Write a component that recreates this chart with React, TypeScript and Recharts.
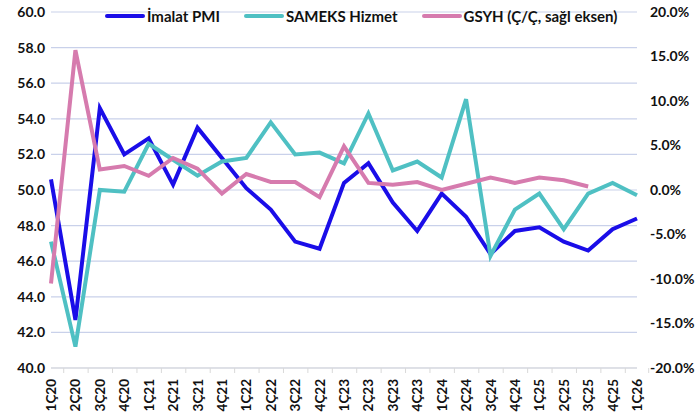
import { LineChart, Line, XAxis, YAxis, CartesianGrid } from "recharts";

const quarters = [
  "1Ç20", "2Ç20", "3Ç20", "4Ç20", "1Ç21", "2Ç21", "3Ç21", "4Ç21",
  "1Ç22", "2Ç22", "3Ç22", "4Ç22", "1Ç23", "2Ç23", "3Ç23", "4Ç23",
  "1Ç24", "2Ç24", "3Ç24", "4Ç24", "1Ç25", "2Ç25", "3Ç25", "4Ç25", "1Ç26",
];

const imalatPmi = [
  50.6, 42.7, 54.6, 52.0, 52.9, 50.3, 53.5, 51.8, 50.1, 48.9, 47.1, 46.7,
  50.4, 51.5, 49.3, 47.7, 49.8, 48.5, 46.4, 47.7, 47.9, 47.1, 46.6, 47.8, 48.4,
];

const sameksHizmet = [
  47.1, 41.2, 50.0, 49.9, 52.6, 51.7, 50.8, 51.6, 51.8, 53.8, 52.0, 52.1,
  51.5, 54.3, 51.1, 51.6, 50.7, 55.1, 46.3, 48.9, 49.8, 47.8, 49.8, 50.4, 49.7,
];

// GSYH ç/ç %, sağ eksen
const gsyh = [
  -10.5, 15.7, 2.3, 2.7, 1.6, 3.6, 2.4, -0.4, 1.8, 0.9, 0.9, -0.8,
  4.9, 0.8, 0.6, 0.9, 0.0, 0.7, 1.4, 0.8, 1.4, 1.1, 0.4, null, null,
];

const leftTicks = [40, 42, 44, 46, 48, 50, 52, 54, 56, 58, 60];
const rightTicks = [-20, -15, -10, -5, 0, 5, 10, 15, 20];

const series = [
  { key: "pmi", name: "İmalat PMI", color: "#1a0de8", axis: "left" },
  { key: "sameks", name: "SAMEKS Hizmet", color: "#4fc0c3", axis: "left" },
  { key: "gsyh", name: "GSYH (Ç/Ç, sağl eksen)", color: "#d67bae", axis: "right" },
];

const data = quarters.map((q, i) => ({
  q,
  pmi: imalatPmi[i],
  sameks: sameksHizmet[i],
  gsyh: gsyh[i],
}));

const FONT = "Lato, 'Open Sans', sans-serif";
const tickStyle = { fill: "#111", fontSize: 14, fontWeight: 700, fontFamily: FONT };

// x ekseni: etiketler dikey, çentikler kategori aralarında
const XTick = (props: any) => {
  const { x, y, payload, index, visibleTicksCount } = props;
  const off = payload.offset || 11.7;
  return (
    <g>
      <line x1={x - off} y1={y} x2={x - off} y2={y + 5} stroke="#d9d9d9" />
      {index === visibleTicksCount - 1 && (
        <line x1={x + off} y1={y} x2={x + off} y2={y + 5} stroke="#d9d9d9" />
      )}
      <text
        x={0}
        y={0}
        transform={`translate(${x},${y + 11}) rotate(-90)`}
        textAnchor="end"
        dominantBaseline="central"
        style={{ ...tickStyle, fontSize: 13.5 }}
      >
        {payload.value}
      </text>
    </g>
  );
};

function LegendBox() {
  return (
    <div
      style={{
        position: "absolute",
        left: 105,
        top: 7,
        display: "flex",
        alignItems: "center",
        fontFamily: FONT,
        fontWeight: 700,
        fontSize: 15,
        color: "#111",
      }}
    >
      {series.map((s) => (
        <div key={s.key} style={{ display: "flex", alignItems: "center", marginRight: 24 }}>
          <span
            style={{
              display: "inline-block",
              width: 40,
              height: 4,
              borderRadius: 2,
              background: s.color,
              marginRight: 2,
            }}
          />
          <span>{s.name}</span>
        </div>
      ))}
    </div>
  );
}

export default function App() {
  return (
    <div style={{ position: "absolute", left: 0, top: 0, width: 699, height: 419, background: "#fff" }}>
      <LineChart width={699} height={419} data={data} margin={{ top: 12, right: 0, bottom: 0, left: 0 }}>
        <CartesianGrid yAxisId="left" vertical={false} stroke="#c9d1ea" strokeWidth={1.2} />
        <XAxis
          dataKey="q"
          height={51}
          interval={0}
          tickLine={false}
          tickSize={0}
          tickMargin={0}
          stroke="#d9d9d9"
          tick={<XTick />}
        />
        <YAxis
          yAxisId="left"
          width={51}
          domain={[40, 60]}
          ticks={leftTicks}
          tickFormatter={(v: number) => v.toFixed(1)}
          axisLine={false}
          tickLine={false}
          tickSize={0}
          tickMargin={6}
          tick={tickStyle}
        />
        <YAxis
          yAxisId="right"
          orientation="right"
          width={62}
          domain={[-20, 20]}
          ticks={rightTicks}
          tickFormatter={(v: number) => v.toFixed(1) + "%"}
          axisLine={false}
          tickLine={false}
          tickSize={0}
          tickMargin={13}
          tick={{ ...tickStyle, textAnchor: "start" }}
        />
        {series.map((s) => (
          <Line
            key={s.key}
            yAxisId={s.axis}
            type="linear"
            dataKey={s.key}
            name={s.name}
            stroke={s.color}
            strokeWidth={4}
            dot={false}
            activeDot={false}
            isAnimationActive={false}
          />
        ))}
      </LineChart>
      <LegendBox />
    </div>
  );
}
